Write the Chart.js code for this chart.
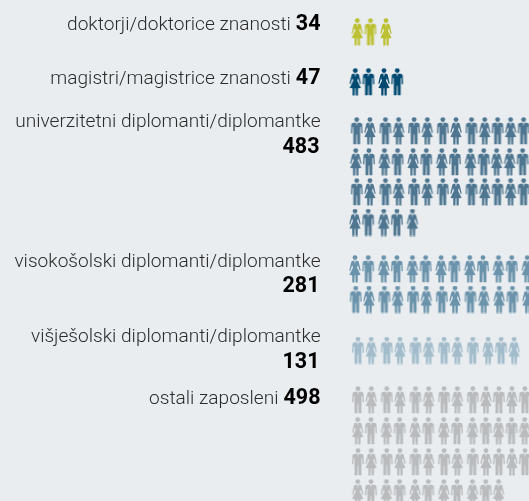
<!DOCTYPE html>
<html><head><meta charset="utf-8">
<style>html,body{margin:0;padding:0;background:#e9edf0;overflow:hidden}#w{position:relative;width:529px;height:501px}canvas{display:block}</style>
<script src="https://cdn.jsdelivr.net/npm/chart.js@4"></script></head>
<body><div id="w"><canvas id="c" width="529" height="501"></canvas></div>
<script>
// ---- data ----
const categories = ['doktorji/doktorice znanosti','magistri/magistrice znanosti','univerzitetni diplomanti/diplomantke','visokošolski diplomanti/diplomantke','višješolski diplomanti/diplomantke','ostali zaposleni'];
const values = [34,47,483,281,131,498];
const figures1 = ['WMW'];
const figures2 = ['WMWM'];
const figures3 = ['MWMWMWMWMWMWM','WMWMWMWMWMWWM','MWMWMWMWMWMWM','WMWMW'];
const figures4 = ['WMWMWMWMWMWMW','MWMWMWMWMWWMW'];
const figures5 = ['MWMWMWMWMWMW'];
const figures6 = ['MWMWMWMWMWMWM','WMWMWMWMWMWMW','MWMWMWMWMWMWM','WMWMWMWMWMW'];
const groupFigures = [figures1,figures2,figures3,figures4,figures5,figures6];

// ---- layout / style ----
const colours = ['#bcc032','#004a72','#4f7690','#6b93ab','#a2bccb','#b9bbbd'];
const rowY = [[32],[82],[131,162,192,222.5],[269,299.5],[350.5],[400,431,462,493]];
const rowLeft = [[357.3],[355.3],[356.7,355.7,356.7,355],[355,355.7],[358],[358,357.7,358,357.7]];
const tailFrom = [99,99,10,99,9,10];
const labelBase = [[30],[84],[127,153],[267,292],[342,368],[404]];
const splitLine = [false,false,true,true,true,false];
const labelRight = 320.5;

function colX(left,i,tail){
  const pos = k => left + 28.7*Math.floor(k/2) + 13.2*(k%2);
  if(i<tail) return pos(i);
  return pos(tail-1) + (tail%2? 15.3 : 12.9) + 13*(i-tail);
}
function makeIcon(kind,col){
  const c=document.createElement('canvas'); c.width=14; c.height=28;
  const g=c.getContext('2d'); g.fillStyle=col; const cx=7;
  g.beginPath(); g.arc(cx,2.6,2.4,0,7); g.fill();
  const side = kind==='M'
    ? [[3.4,5.7],[5.4,6.8],[5.9,16.2],[4.6,16.2],[4.3,10],[3.5,10],[3.4,27.2],[.55,27.2],[.35,17.5]]
    : [[2.6,5.7],[3.7,6.8],[5.7,15.4],[4.7,16],[2.9,10.2],[2,12.6],[5.6,20],[2.8,20.2],[2.7,27.5],[.55,27.5],[.4,20.2]];
  g.beginPath();
  side.forEach(([x,y],n)=> n? g.lineTo(cx+x,y) : g.moveTo(cx+x,y));
  [...side].reverse().forEach(([x,y])=>g.lineTo(cx-x,y));
  g.closePath(); g.fill();
  g.fillStyle='rgba(233,237,240,.6)';
  g.beginPath(); g.moveTo(cx-1.1,5.7);g.lineTo(cx+1.1,5.7);g.lineTo(cx,9);g.closePath(); g.fill();
  return c;
}
const datasets = groupFigures.map((rows,gi)=>{
  const icons={M:makeIcon('M',colours[gi]),W:makeIcon('W',colours[gi])};
  const pts=[],styles=[];
  rows.forEach((row,ri)=>[...row].forEach((k,i)=>{
    pts.push({x:colX(rowLeft[gi][ri],i,tailFrom[gi]),y:rowY[gi][ri]});
    styles.push(icons[k]);
  }));
  return {label:categories[gi],data:pts,pointStyle:styles,pointRadius:7,backgroundColor:colours[gi],borderWidth:0};
});
const labelPlugin={id:'labels',afterDraw(ch){
  const g=ch.ctx; g.save(); g.textAlign='right'; g.textBaseline='alphabetic';
  const light='300 19.1px Roboto', bold='700 21.5px Roboto';
  categories.forEach((t,i)=>{
    const base=labelBase[i], v=String(values[i]);
    g.fillStyle='#2b2b2b';g.font=light;
    if(splitLine[i]){
      g.fillText(t,labelRight,base[0]);
      g.fillStyle='#000';g.font=bold;g.fillText(v,labelRight-1,base[1]);
    }else{
      g.font=bold;const w=g.measureText(v).width;
      g.fillStyle='#000';g.fillText(v,labelRight,base[0]);
      g.fillStyle='#2b2b2b';g.font=light;g.fillText(t,labelRight-w-5,base[0]);
    }
  });
  g.restore();
}};
new Chart(document.getElementById('c'),{type:'scatter',data:{datasets},plugins:[labelPlugin],
 options:{responsive:false,animation:false,layout:{padding:0,autoPadding:false},events:[],
  plugins:{legend:{display:false},tooltip:{enabled:false}},
  clip:false,
  scales:{x:{type:'linear',display:false,min:0,max:529},y:{type:'linear',display:false,min:0,max:501,reverse:true}}}});
</script></body></html>
